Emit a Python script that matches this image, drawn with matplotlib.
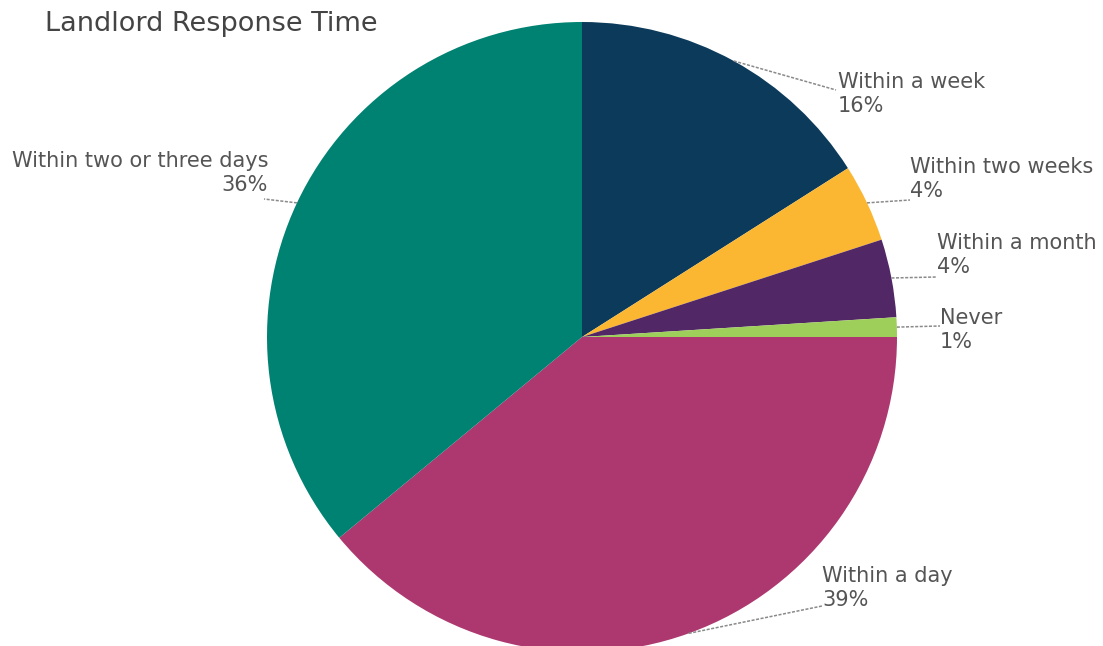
import numpy as np
import matplotlib
matplotlib.use("Agg")
import matplotlib.pyplot as plt

# data
labels = ["Within a week", "Within two weeks", "Within a month", "Never",
          "Within a day", "Within two or three days"]
shares = [16, 4, 4, 1, 39, 36]
colors = ["#0c3a5b", "#fbb731", "#512865", "#9fcf5b", "#ad386f", "#008272"]

# label text anchors (figure pixels, y down) and alignment
text_pos = [(838, 94), (910, 179), (937, 255), (940, 330), (822, 588), (268, 173)]
text_ha = ["left", "left", "left", "left", "left", "right"]
line_end = [(836, 90), (910, 200), (937, 277), (940, 326), (822, 606), (264, 199)]

W, H = 1103, 646
fig = plt.figure(figsize=(W / 100, H / 100), dpi=100)
ax = fig.add_axes([0, 0, 1, 1])

cx, cy, r = 582, H - 337, 315
wedges, _ = ax.pie(shares, colors=colors, startangle=90, counterclock=False,
                   center=(cx, cy), radius=r, frame=True,
                   wedgeprops=dict(linewidth=0))
ax.set_xlim(0, W)
ax.set_ylim(0, H)
ax.set_aspect("equal")
ax.axis("off")

font = "DejaVu Sans"
for w, lab, val, (tx, ty), ha, (ex, ey) in zip(wedges, labels, shares, text_pos, text_ha, line_end):
    ang = np.deg2rad((w.theta1 + w.theta2) / 2)
    sx, sy = cx + r * np.cos(ang), cy + r * np.sin(ang)
    ax.plot([sx, ex], [sy, H - ey], color="#8a8a8a", lw=1.1, ls=(0, (2, 1)))
    ax.text(tx, H - ty, f"{lab}\n{val}%", ha=ha, va="center", fontsize=15,
            color="#555555", family=font, linespacing=1.2)

fig.text(45 / W, 1 - 24 / H, "Landlord Response Time", fontsize=19.5,
         color="#444444", family=font, va="center", ha="left")

fig.savefig("out.png", dpi=100)
